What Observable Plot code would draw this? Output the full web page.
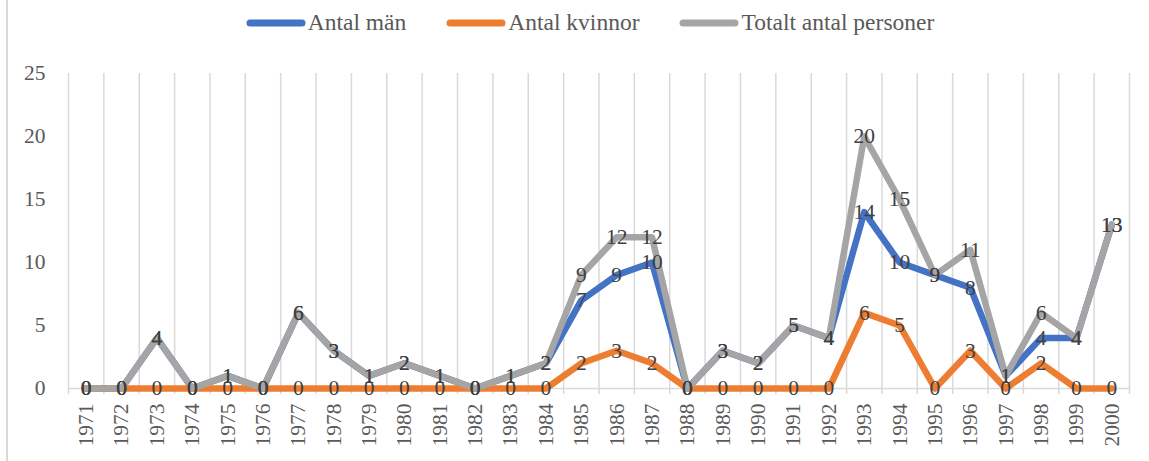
<!DOCTYPE html>
<html><head><meta charset="utf-8">
<script src="https://cdn.jsdelivr.net/npm/d3@7"></script>
<script src="https://cdn.jsdelivr.net/npm/@observablehq/plot@0.6"></script>
<style>
body{margin:0;background:#fff;}
#wrap{position:relative;width:1149px;height:461px;overflow:hidden;font-family:"Liberation Serif","Times New Roman",serif;}
#border{position:absolute;left:6px;top:0;width:2px;height:461px;background:#d9d9d9;}
#legend{height:45px;display:flex;align-items:center;justify-content:center;padding-left:31px;box-sizing:border-box;width:1149px;}
.item{display:flex;align-items:center;margin:0 20px;}
.item span{font-family:"Liberation Serif","Times New Roman",serif;font-size:23.5px;color:#595959;margin-left:2px;}
#chart svg{display:block;}
</style>
</head><body>
<div id="wrap"><div id="border"></div><div id="legend"></div><div id="chart"></div></div>
<script>
const years = d3.range(1971, 2001);
const men   = [0,0,4,0,1,0,6,3,1,2,1,0,1,2,7,9,10,0,3,2,5,4,14,10,9,8,1,4,4,13];
const women = [0,0,0,0,0,0,0,0,0,0,0,0,0,0,2,3,2,0,0,0,0,0,6,5,0,3,0,2,0,0];
const total = [0,0,4,0,1,0,6,3,1,2,1,0,1,2,9,12,12,0,3,2,5,4,20,15,9,11,1,6,4,13];
const seriesNames = ["Antal män","Antal kvinnor","Totalt antal personer"];
const seriesColors = ["#4472C4","#ED7D31","#A5A5A5"];
const seriesValues = [men, women, total];
const yTicks = [0,5,10,15,20,25];

const legend = document.getElementById("legend");
seriesNames.forEach((n,i)=>{
  const it = document.createElement("div"); it.className="item";
  it.innerHTML = `<svg width="60" height="10"><line x1="4" y1="5" x2="56" y2="5" stroke="${seriesColors[i]}" stroke-width="7" stroke-linecap="round"/></svg><span>${n}</span>`;
  legend.appendChild(it);
});

const rows = seriesValues.map((vals,i)=>years.map((yr,j)=>({series:seriesNames[i], year:yr, value:vals[j]})));
const edges = years.map(y=>y-0.5).concat([years[years.length-1]+0.5]);

const marks = [
  Plot.ruleX(edges, {stroke:"#d9d9d9", strokeWidth:1.5, insetBottom:-6}),
  Plot.ruleY([0], {stroke:"#d9d9d9", strokeWidth:1.5}),
  Plot.axisY({ticks:yTicks, tickSize:0, tickPadding:23, fill:"#595959", label:null}),
  Plot.axisX({ticks:years, tickSize:0, tickRotate:-90, tickPadding:15, tickFormat:d=>String(d), fill:"#595959", label:null})
];
rows.forEach((r,i)=>marks.push(Plot.lineY(r,{x:"year", y:"value", stroke:seriesColors[i], strokeWidth:6.5, strokeLinejoin:"round", strokeLinecap:"round"})));
rows.forEach((r,i)=>marks.push(Plot.text(r,{x:"year", y:"value", text:d=>String(d.value), fill:"#404040"})));

const chart = Plot.plot({
  width:1149, height:416,
  marginTop:28, marginBottom:73, marginLeft:68, marginRight:20,
  x:{type:"linear", domain:[years[0]-0.5, years[years.length-1]+0.5], axis:null, label:null},
  y:{domain:[0,25], axis:null, label:null},
  style:{fontFamily:"'Liberation Serif','Times New Roman',serif", fontSize:"21.5px", background:"transparent", overflow:"visible"},
  marks
});
document.getElementById("chart").appendChild(chart);
</script>
</body></html>
